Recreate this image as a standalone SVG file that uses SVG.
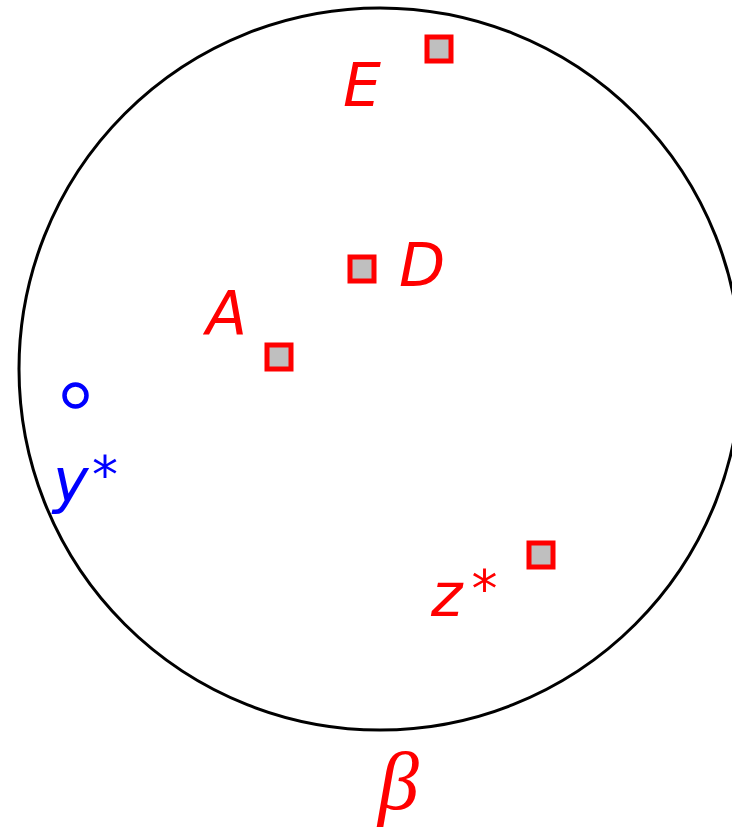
<svg xmlns="http://www.w3.org/2000/svg" width="732" height="829" viewBox="0 0 732 829">
<style>
.pt{fill:#bfbfbf;stroke:#ff0000;stroke-width:5}
.lbl{font-family:"DejaVu Sans",sans-serif;font-style:italic;font-size:60px;fill:#ff0000}
.blue{fill:#0000ff}
.sup{font-style:normal;font-size:52px}
</style>
<rect width="732" height="829" fill="#fff"/>
<g id="beta-circle">
<circle cx="380" cy="369" r="361" fill="none" stroke="#000" stroke-width="3"/>
<text x="378" y="809" style="font-family:'Liberation Serif',serif;font-style:italic;font-size:82px;fill:#ff0000">β</text>
</g>
<g id="E"><rect class="pt" x="427" y="37" width="24" height="24"/><text class="lbl" x="343" y="106">E</text></g>
<g id="D"><rect class="pt" x="350" y="257" width="24" height="24"/><text class="lbl" x="399" y="286">D</text></g>
<g id="A"><rect class="pt" x="267" y="345" width="24" height="24"/><text class="lbl" x="206" y="334">A</text></g>
<g id="z"><rect class="pt" x="529" y="543" width="24" height="24"/><text class="lbl" x="431" y="616">z<tspan class="sup" x="471.5" y="607">*</tspan></text></g>
<g id="y"><circle cx="75.5" cy="395.5" r="11" fill="none" stroke="#0000ff" stroke-width="4.5"/><text class="lbl blue" x="53" y="502">y<tspan class="sup" x="92" y="493">*</tspan></text></g>
<g id="connectors"/>
</svg>
